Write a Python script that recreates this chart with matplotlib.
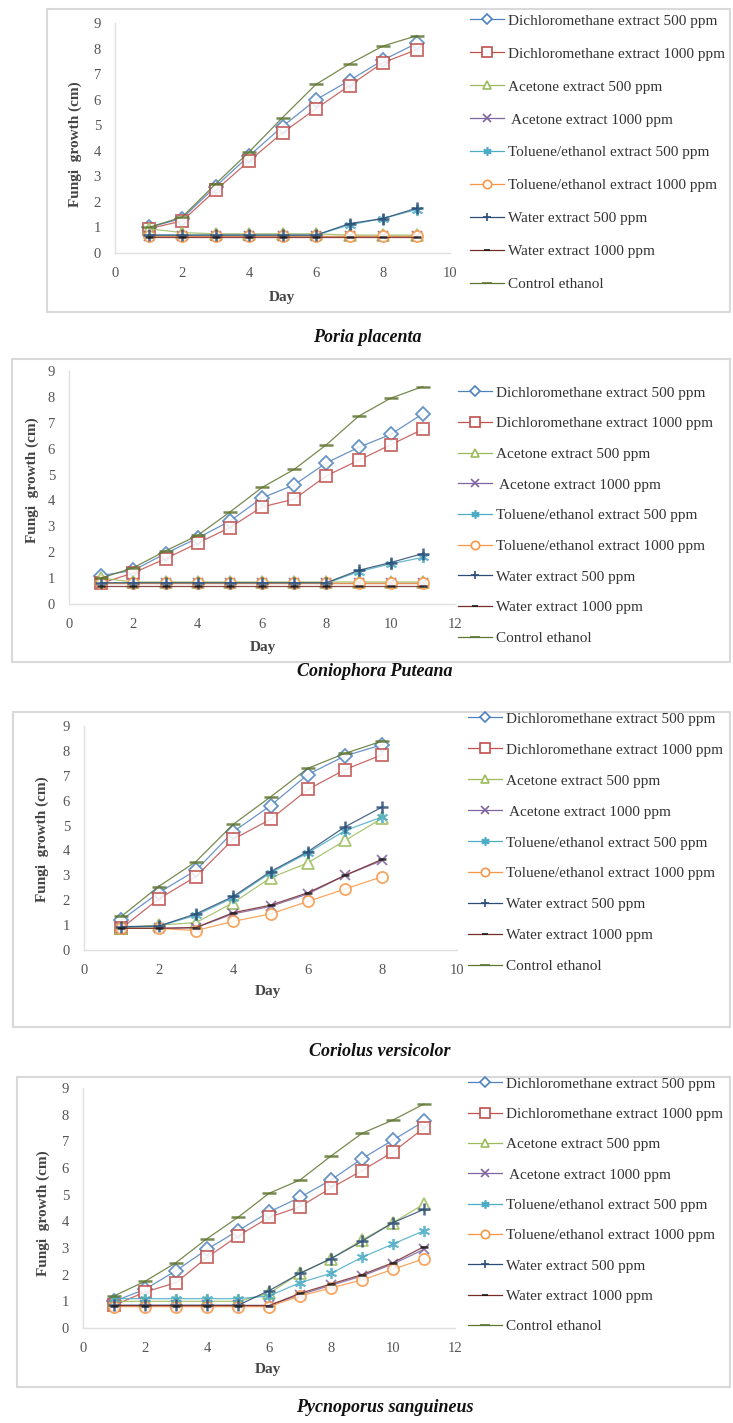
import matplotlib.pyplot as plt
from matplotlib.patches import Rectangle
from matplotlib.lines import Line2D

W, H = 733, 1423

# series names and styles (Excel default order)
labels = ["Dichloromethane extract 500 ppm", "Dichloromethane extract 1000 ppm",
          "Acetone extract 500 ppm", " Acetone extract 1000 ppm",
          "Toluene/ethanol extract 500 ppm", "Toluene/ethanol extract 1000 ppm",
          "Water extract 500 ppm", "Water extract 1000 ppm", "Control ethanol"]
colors = ["#4F81BD", "#C0504D", "#9BBB59", "#8064A2", "#4BACC6", "#F79646",
          "#2C4D75", "#772C2A", "#5F7530"]

# ---- Poria placenta (days 1-9)
days_pp = [1, 2, 3, 4, 5, 6, 7, 8, 9]
pp_dcm500 = [1.0, 1.35, 2.6, 3.8, 4.95, 6.0, 6.75, 7.55, 8.2]
pp_dcm1000 = [0.95, 1.25, 2.45, 3.6, 4.7, 5.65, 6.55, 7.45, 7.95]
pp_ace500 = [0.95, 0.8, 0.75, 0.75, 0.75, 0.75, 0.7, 0.7, 0.7]
pp_ace1000 = [0.65, 0.65, 0.65, 0.65, 0.65, 0.65, 0.65, 0.65, 0.65]
pp_tol500 = [0.7, 0.7, 0.7, 0.7, 0.7, 0.7, 1.1, 1.35, 1.7]
pp_tol1000 = [0.65, 0.65, 0.65, 0.65, 0.65, 0.65, 0.65, 0.65, 0.65]
pp_water500 = [0.7, 0.7, 0.7, 0.7, 0.7, 0.7, 1.15, 1.35, 1.75]
pp_water1000 = [0.62, 0.62, 0.62, 0.62, 0.62, 0.62, 0.62, 0.62, 0.62]
pp_control = [1.0, 1.4, 2.7, 3.95, 5.3, 6.6, 7.4, 8.1, 8.5]

# ---- Coniophora puteana (days 1-11)
days_cp = [1, 2, 3, 4, 5, 6, 7, 8, 9, 10, 11]
cp_dcm500 = [1.1, 1.3, 1.95, 2.55, 3.2, 4.1, 4.6, 5.45, 6.05, 6.55, 7.35]
cp_dcm1000 = [0.8, 1.2, 1.75, 2.35, 2.95, 3.75, 4.05, 4.95, 5.55, 6.15, 6.75]
cp_ace500 = [1.0, 0.85, 0.85, 0.85, 0.85, 0.85, 0.85, 0.85, 0.85, 0.85, 0.85]
cp_ace1000 = [0.8, 0.8, 0.8, 0.8, 0.8, 0.8, 0.8, 0.8, 0.8, 0.8, 0.8]
cp_tol500 = [0.8, 0.8, 0.8, 0.8, 0.8, 0.8, 0.8, 0.8, 1.25, 1.55, 1.8]
cp_tol1000 = [0.8, 0.8, 0.8, 0.8, 0.8, 0.8, 0.8, 0.8, 0.8, 0.8, 0.8]
cp_water500 = [0.82, 0.82, 0.82, 0.82, 0.82, 0.82, 0.82, 0.82, 1.3, 1.6, 1.95]
cp_water1000 = [0.7, 0.7, 0.7, 0.7, 0.7, 0.7, 0.7, 0.7, 0.7, 0.7, 0.7]
cp_control = [1.0, 1.4, 2.05, 2.65, 3.55, 4.5, 5.2, 6.15, 7.25, 7.95, 8.4]

# ---- Coriolus versicolor (days 1-8)
days_cv = [1, 2, 3, 4, 5, 6, 7, 8]
cv_dcm500 = [1.2, 2.3, 3.2, 4.75, 5.8, 7.05, 7.8, 8.25]
cv_dcm1000 = [0.87, 2.05, 2.95, 4.45, 5.25, 6.45, 7.25, 7.85]
cv_ace500 = [0.9, 1.0, 1.1, 1.9, 2.9, 3.5, 4.4, 5.3]
cv_ace1000 = [0.87, 0.87, 0.9, 1.45, 1.75, 2.25, 3.0, 3.6]
cv_tol500 = [0.9, 0.95, 1.4, 2.1, 3.1, 3.9, 4.8, 5.35]
cv_tol1000 = [0.87, 0.87, 0.78, 1.15, 1.45, 1.95, 2.45, 2.95]
cv_water500 = [0.94, 0.96, 1.45, 2.15, 3.15, 3.95, 4.95, 5.75]
cv_water1000 = [0.87, 0.87, 0.9, 1.5, 1.8, 2.3, 3.0, 3.65]
cv_control = [1.35, 2.55, 3.55, 5.05, 6.15, 7.3, 7.9, 8.4]

# ---- Pycnoporus sanguineus (days 1-11)
days_ps = [1, 2, 3, 4, 5, 6, 7, 8, 9, 10, 11]
ps_dcm500 = [1.0, 1.45, 2.15, 2.95, 3.65, 4.35, 4.9, 5.55, 6.35, 7.05, 7.75]
ps_dcm1000 = [0.85, 1.35, 1.7, 2.65, 3.45, 4.15, 4.55, 5.25, 5.9, 6.6, 7.5]
ps_ace500 = [1.0, 1.0, 1.0, 1.0, 1.0, 1.3, 2.05, 2.6, 3.3, 3.95, 4.65]
ps_ace1000 = [0.85, 0.85, 0.85, 0.85, 0.85, 0.85, 1.25, 1.6, 1.95, 2.4, 2.95]
ps_tol500 = [1.1, 1.1, 1.1, 1.1, 1.1, 1.2, 1.7, 2.05, 2.65, 3.15, 3.65]
ps_tol1000 = [0.8, 0.8, 0.8, 0.8, 0.8, 0.8, 1.2, 1.5, 1.8, 2.2, 2.6]
ps_water500 = [0.85, 0.85, 0.85, 0.85, 0.85, 1.4, 2.05, 2.6, 3.25, 3.95, 4.45]
ps_water1000 = [0.84, 0.84, 0.84, 0.84, 0.84, 0.84, 1.3, 1.65, 2.0, 2.45, 3.05]
ps_control = [1.2, 1.75, 2.45, 3.35, 4.15, 5.05, 5.55, 6.45, 7.3, 7.8, 8.4]

titles = ["Poria placenta", "Coniophora Puteana", "Coriolus versicolor", "Pycnoporus sanguineus"]

panels = [
    (days_pp, [pp_dcm500, pp_dcm1000, pp_ace500, pp_ace1000, pp_tol500, pp_tol1000, pp_water500, pp_water1000, pp_control], 10),
    (days_cp, [cp_dcm500, cp_dcm1000, cp_ace500, cp_ace1000, cp_tol500, cp_tol1000, cp_water500, cp_water1000, cp_control], 12),
    (days_cv, [cv_dcm500, cv_dcm1000, cv_ace500, cv_ace1000, cv_tol500, cv_tol1000, cv_water500, cv_water1000, cv_control], 10),
    (days_ps, [ps_dcm500, ps_dcm1000, ps_ace500, ps_ace1000, ps_tol500, ps_tol1000, ps_water500, ps_water1000, ps_control], 12),
]

# layout in pixels: axes box (left, top, right, bottom), chart frame, label spots, legend spot
axes_px = [(115, 23, 450, 253), (69, 371, 455, 604), (84, 726, 457, 950), (83, 1088, 455, 1328)]
frame_px = [(47, 9, 730, 312), (12, 359, 730, 662), (13, 712, 730, 1027), (17, 1077, 730, 1387)]
ylab_px = [(75, 144), (32, 480), (42, 839), (43, 1213)]
xlab_px = [(282, 298), (263, 647), (268, 992), (268, 1370)]
title_px = [(367, 338), (375, 672), (380, 1052), (385, 1408)]
legend_px = [(470, 19, 1.26), (458, 391, 1.11), (468, 717, 1.13), (468, 1082, 1.09)]

markers = ["D", "s", "^", "x", (6, 2, 0), "o", "+", "_", "_"]
msizes = [7, 9, 8, 7, 8, 8, 8, 6, 10]

plt.rcParams['font.family'] = ['Liberation Serif', 'DejaVu Serif']

fig = plt.figure(figsize=(W / 100, H / 100), dpi=100)


def fx(x):
    return x / W


def fy(y):
    return 1 - y / H


for i, (days, series, xmax) in enumerate(panels):
    l, t, r, b = frame_px[i]
    fig.patches.append(Rectangle((fx(l), fy(b)), fx(r - l), (b - t) / H, transform=fig.transFigure,
                                 facecolor="none", edgecolor="#d9d9d9", lw=1.5, zorder=0))

    l, t, r, b = axes_px[i]
    ax = fig.add_axes([fx(l), fy(b), fx(r - l), (b - t) / H], zorder=2)
    ax.patch.set_alpha(0)
    handles = []
    for k, vals in enumerate(series):
        filled = k in (3, 4, 6, 7, 8)
        mec = colors[k]
        if k == 7:
            mec = "#1a1a1a"
        ax.plot(days, vals, color=colors[k], lw=0.9, alpha=0.85,
                marker=markers[k], ms=msizes[k], mew=1.8 if k in (6, 7, 8) else 1.3,
                mfc=colors[k] if filled else "white", mec=mec, zorder=3 + k)
        handles.append(Line2D([], [], color=colors[k], lw=0.9, marker=markers[k],
                              ms=msizes[k] * 0.75, mew=1.2, mfc=colors[k] if filled else "white", mec=mec))
    ax.set_xlim(0, xmax)
    ax.set_ylim(0, 9)
    ax.set_xticks(range(0, xmax + 1, 2))
    ax.set_yticks(range(0, 10))
    for s in ("top", "right"):
        ax.spines[s].set_visible(False)
    for s in ("left", "bottom"):
        ax.spines[s].set_color("#e0e0e0")
        ax.spines[s].set_linewidth(1.0)
    ax.tick_params(length=0, labelsize=10.5, labelcolor="#555555")
    ax.tick_params(axis="x", pad=10)
    ax.tick_params(axis="y", pad=10)

    x, y = ylab_px[i]
    fig.text(fx(x), fy(y), "Fungi  growth (cm)", rotation=90, ha="center", va="center",
             fontsize=11, color="#444444", fontweight="bold")
    x, y = xlab_px[i]
    fig.text(fx(x), fy(y), "Day", ha="center", va="center", fontsize=11, color="#444444", fontweight="bold")
    x, y = title_px[i]
    fig.text(fx(x), fy(y), titles[i], ha="center", va="center", fontsize=13,
             fontweight="bold", style="italic", color="#111111")

    x, y, sp = legend_px[i]
    fig.legend(handles, labels, loc="upper left", bbox_to_anchor=(fx(x), fy(y - 5)),
               frameon=False, fontsize=11, labelspacing=sp, handlelength=2.2,
               handletextpad=0.3, borderpad=0, borderaxespad=0, labelcolor="#333333")

fig.savefig("out.png", dpi=100)
